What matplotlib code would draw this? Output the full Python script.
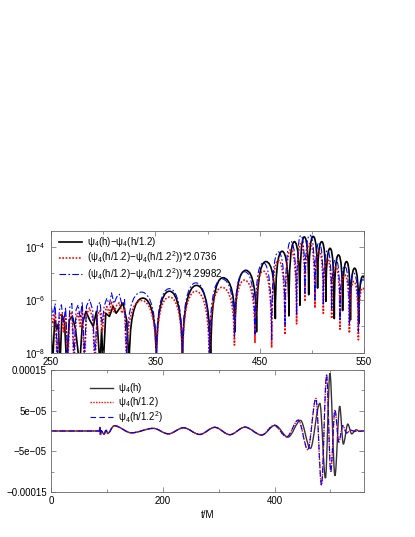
import matplotlib
matplotlib.use("Agg")
import matplotlib.pyplot as plt
from matplotlib.ticker import FixedLocator, FixedFormatter
from matplotlib.path import Path
from matplotlib.patches import PathPatch
from matplotlib.lines import Line2D
import numpy as np

plt.rcParams['font.family'] = ['Liberation Sans', 'DejaVu Sans']
plt.rcParams['mathtext.fontset'] = 'custom'
plt.rcParams['mathtext.rm'] = 'Liberation Sans'
plt.rcParams['mathtext.it'] = 'Liberation Sans:italic'
plt.rcParams['font.size'] = 7

# ---- top panel: |differences|, log10 values ----
# psi4(h) - psi4(h/1.2): noisy start, then arches between zeros
diff1_noise_t = [250, 251.5, 253.5, 255.5, 257, 258.6, 260.5, 263, 265, 267.5, 270.5,
                 273.5, 277.5, 280, 283.5, 287, 290.5, 293.5, 297, 298.5, 300, 302.5,
                 306, 309.5, 312.5, 316, 319, 322.5]
diff1_noise_exp = [-7.0, -8.5, -6.75, -7.1, -6.9, -8.5, -6.56, -6.85, -8.5, -6.75, -6.62,
                   -7.1, -8.5, -6.9, -6.43, -6.75, -7.0, -6.43, -8.5, -7.1, -8.5, -6.5,
                   -6.62, -6.24, -6.5, -6.3, -6.12, -6.75]
diff1_zeros = [325, 351, 376, 403, 426.5, 447, 465, 478, 488.5, 497, 505.5, 513.5,
               521.5, 529.5, 537, 545, 553]
diff1_dips = [-8.5, -8.5, -8.5, -8.5, -7.2, -7.2, -6.7, -6.6, -6.2, -5.8, -5.55, -6.05,
              -6.7, -6.4, -6.75, -6.9, -7.0]
diff1_peaks = [-5.93, -5.67, -5.45, -5.16, -4.88, -4.55, -4.16, -3.8, -3.62, -3.6, -3.8,
               -4.05, -4.3, -4.55, -4.8, -5.1]

# (psi4(h/1.2) - psi4(h/1.2^2)) * 2.0736
diff2_noise_t = [250, 252, 254, 256, 258, 260, 262, 264, 266, 268, 270, 272, 274, 276,
                 278, 280, 282, 284, 287, 290, 292, 294.5, 297, 299, 301, 303.5, 306, 308,
                 310.5, 313, 315.5, 318, 320.5]
diff2_noise_exp = [-6.55, -6.9, -6.45, -8.5, -6.7, -6.5, -7.2, -6.6, -8.5, -6.6, -6.45,
                   -8.5, -6.7, -6.5, -7.0, -6.4, -8.5, -6.55, -6.3, -6.7, -8.5, -6.55,
                   -6.4, -7.2, -6.55, -6.25, -6.5, -6.05, -6.45, -6.2, -6.1, -6.5, -6.3]
diff2_zeros = [322.5, 351, 376, 401.8, 425.8, 445.5, 461.5, 474.3, 485.4, 493.4, 503,
               511, 519, 527, 536, 544.6, 553]
diff2_dips = [-8.5, -8.5, -8.5, -8.5, -7.7, -7.6, -7.8, -7.3, -6.9, -6.05, -6.3, -6.5,
              -6.7, -7.1, -7.25, -7.5, -7.6]
diff2_peaks = [-6.02, -5.89, -5.67, -5.52, -5.25, -4.91, -4.5, -4.1, -3.88, -3.87, -4.15,
               -4.45, -4.75, -5.05, -5.3, -5.55]

scale2 = 2.0736
scale4 = 4.29982

# ---- bottom panel: psi4 extrema (units of 1e-5) ----
early_t = [0, 86.5, 87.5, 88.5, 89.5, 95, 98.5, 101.5, 113, 144, 183, 210, 237, 266,
           293, 320, 347, 377]
early_v = [0, 0, 1.0, -1.0, 0.1, -0.8, 0.2, -0.6, 1.3, -0.45, 0.65, -0.7, 0.8, -0.85,
           0.9, -0.9, 0.95, -1.0]
merge_h_t = [401, 424, 446.5, 464, 481, 491, 499, 508, 516.5, 523, 531, 538, 546, 552, 560]
merge_h_v = [1.4, -1.5, 2.6, -4.3, 6.8, -11.6, 14.2, -11.0, 6.1, -3.2, 1.7, -0.7, 0.3, -0.1, 0]
# h/1.2 and h/1.2^2 coincide at this scale
merge_f_t = [399, 421.6, 442.5, 459.5, 474, 484, 493, 500.5, 508, 515, 522, 529, 536, 543, 560]
merge_f_v = [1.4, -1.45, 2.7, -4.6, 8.0, -13.3, 13.8, -10.0, 5.2, -2.7, 1.3, -0.5, 0.2, -0.05, 0]


def arch_path(noise_t, noise_exp, zeros, dips, peaks, shift=0.0):
    # jagged part as straight segments, then one rounded arch per lobe
    verts = [(t, 10**(e + shift)) for t, e in zip(noise_t, noise_exp)]
    codes = [Path.MOVETO] + [Path.LINETO] * (len(verts) - 1)
    verts.append((zeros[0], 10**(dips[0] + shift)))
    codes.append(Path.LINETO)
    for i, p in enumerate(peaks):
        z0, z1 = zeros[i], zeros[i + 1]
        pv = 10**(p + shift)
        verts += [(z0, pv), ((z0 + z1) / 2, pv), (z1, pv), (z1, 10**(dips[i + 1] + shift))]
        codes += [Path.CURVE3] * 4
    return Path(verts, codes)


def wave_path(ts, vs):
    # smooth curve through extrema (flat tangent at each one)
    verts = [(ts[0], vs[0])]
    codes = [Path.MOVETO]
    for i in range(1, len(ts)):
        dt = ts[i] - ts[i - 1]
        verts += [(ts[i - 1] + dt / 3, vs[i - 1]), (ts[i] - dt / 3, vs[i]), (ts[i], vs[i])]
        codes += [Path.CURVE4] * 3
    return Path(verts, codes)


fig = plt.figure(figsize=(4.15, 5.37), dpi=100)
ax1 = fig.add_axes([51/415, 1-353/537, 313/415, 122/537])
ax2 = fig.add_axes([51/415, 1-492/537, 313/415, 122/537])

ax1.set_yscale('log')
ax1.set_xlim(250, 550)
ax1.set_ylim(1e-8, 4e-4)

st1 = dict(color='black', lw=1.2, ls='-')
st2 = dict(color='red', lw=1.2, ls=(0, (1, 1)))
st3 = dict(color='blue', lw=0.8, ls=(0, (6, 2, 1.5, 2)))

p1 = arch_path(diff1_noise_t, diff1_noise_exp, diff1_zeros, diff1_dips, diff1_peaks)
p2 = arch_path(diff2_noise_t, diff2_noise_exp, diff2_zeros, diff2_dips, diff2_peaks)
p3 = arch_path(diff2_noise_t, diff2_noise_exp, diff2_zeros, diff2_dips, diff2_peaks,
               shift=np.log10(scale4 / scale2))
for p, st in ((p1, st1), (p2, st2), (p3, st3)):
    ax1.add_patch(PathPatch(p, fill=False, edgecolor=st['color'], lw=st['lw'],
                            linestyle=st['ls'], capstyle='butt', joinstyle='round'))

ax1.xaxis.set_major_locator(FixedLocator([250, 350, 450, 550]))
ax1.xaxis.set_minor_locator(FixedLocator([300, 400, 500]))
ax1.yaxis.set_major_locator(FixedLocator([1e-8, 1e-6, 1e-4]))
ax1.yaxis.set_major_formatter(FixedFormatter([r'$\mathregular{10^{-8}}$',
                                              r'$\mathregular{10^{-6}}$',
                                              r'$\mathregular{10^{-4}}$']))
ax1.yaxis.set_minor_locator(FixedLocator([1e-7, 1e-5]))
ax1.yaxis.set_minor_formatter(FixedFormatter(['', '']))
h1 = [Line2D([], [], **st1), Line2D([], [], **st2), Line2D([], [], **st3)]
ax1.legend(h1, ['ψ$_4$(h)−ψ$_4$(h/1.2)',
                '(ψ$_4$(h/1.2)−ψ$_4$(h/1.2$^2$))*2.0736',
                '(ψ$_4$(h/1.2)−ψ$_4$(h/1.2$^2$))*4.29982'],
           loc='upper left', bbox_to_anchor=(59/415, 1-235/537), bbox_transform=fig.transFigure,
           frameon=False, fontsize=7, handlelength=2.4, handletextpad=0.5,
           labelspacing=0.05, borderpad=0, borderaxespad=0)

tb = early_t + merge_h_t
vb = [v * 1e-5 for v in early_v + merge_h_v]
tf = early_t + merge_f_t
vf = [v * 1e-5 for v in early_v + merge_f_v]

sb1 = dict(color='0.2', lw=1.0, ls='-')
sb2 = dict(color='red', lw=1.0, ls=(0, (1, 1)))
sb3 = dict(color='blue', lw=0.8, ls=(0, (5, 3)))
for (ts, vs), st in (((tb, vb), sb1), ((tf, vf), sb2), ((tf, vf), sb3)):
    ax2.add_patch(PathPatch(wave_path(ts, vs), fill=False, edgecolor=st['color'],
                            lw=st['lw'], linestyle=st['ls'], capstyle='butt'))
ax2.set_xlim(0, 560)
ax2.set_ylim(-1.5e-4, 1.5e-4)
ax2.xaxis.set_major_locator(FixedLocator([0, 200, 400]))
ax2.xaxis.set_minor_locator(FixedLocator([100, 300, 500]))
ax2.yaxis.set_major_locator(FixedLocator([-1.5e-4, -5e-5, 5e-5, 1.5e-4]))
ax2.yaxis.set_major_formatter(FixedFormatter(['\u22120.00015', '\u22125e\u221205',
                                              '5e\u221205', '0.00015']))
ax2.yaxis.set_minor_locator(FixedLocator([-1e-4, 0, 1e-4]))
ax2.set_xlabel('t/M', fontsize=7, labelpad=3)
h2 = [Line2D([], [], **sb1), Line2D([], [], **sb2), Line2D([], [], **sb3)]
ax2.legend(h2, ['ψ$_4$(h)', 'ψ$_4$(h/1.2)', 'ψ$_4$(h/1.2$^2$)'],
           loc='upper left', bbox_to_anchor=(90/415, 1-381/537), bbox_transform=fig.transFigure,
           frameon=False, fontsize=7, handlelength=2.4, handletextpad=0.5,
           labelspacing=0.0, borderpad=0, borderaxespad=0)

for ax in (ax1, ax2):
    for s in ax.spines.values():
        s.set_color('#666666')
        s.set_linewidth(0.6)
    ax.tick_params(which='both', direction='in', top=True, right=True,
                   color='#666666', width=0.5, labelsize=7, pad=3)
    ax.tick_params(which='major', length=3.5)
    ax.tick_params(which='minor', length=2)
ax1.tick_params(axis='x', pad=3)
ax1.tick_params(axis='y', pad=4)

fig.savefig('out.png', dpi=100)
